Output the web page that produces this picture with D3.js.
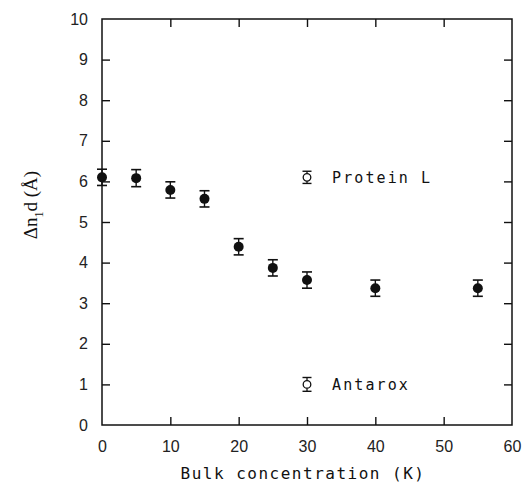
<!DOCTYPE html>
<html>
<head>
<meta charset="utf-8">
<script src="https://cdn.jsdelivr.net/npm/d3@7"></script>
<style>
  html, body { margin: 0; padding: 0; background: #fff; }
  svg { display: block; }
</style>
</head>
<body>
<svg id="chart" width="524" height="488"></svg>
<script>
// ---- data ----
const concentrations = [0, 5, 10, 15, 20, 25, 30, 40, 55];
const deltaValues    = [6.10, 6.08, 5.79, 5.57, 4.39, 3.87, 3.57, 3.37, 3.37];
const deltaErrors    = [0.20, 0.21, 0.20, 0.20, 0.20, 0.20, 0.20, 0.20, 0.20];
const xTicks = [0, 10, 20, 30, 40, 50, 60];
const yTicks = [0, 1, 2, 3, 4, 5, 6, 7, 8, 9, 10];
const legendLabels = ["Protein L", "Antarox"];
const legendX = [30, 30];
const legendY = [6.1, 1.0];
const legendErr = [0.15, 0.17];

(function () {
// ---- layout ----
const svg = d3.select("#chart");
const pLeft = 102, pRight = 512, pTop = 19, pBottom = 425;
const x = d3.scaleLinear().domain([0, 60]).range([pLeft, pRight]);
const y = d3.scaleLinear().domain([0, 10]).range([pBottom, pTop]);
const ink = "#111";
const tickLen = 8;

// frame
svg.append("rect")
  .attr("x", pLeft).attr("y", pTop)
  .attr("width", pRight - pLeft).attr("height", pBottom - pTop)
  .attr("fill", "none").attr("stroke", ink).attr("stroke-width", 1.5);

const tickFont = "'Liberation Sans', Arial, sans-serif";

// axes with inward ticks
const xAxisB = d3.axisBottom(x).tickValues(xTicks).tickSize(-tickLen).tickPadding(16).tickFormat(d3.format("d"));
const gxb = svg.append("g").attr("transform", `translate(0,${pBottom})`).call(xAxisB);
const xAxisT = d3.axisTop(x).tickValues(xTicks).tickSize(-tickLen).tickFormat("");
const gxt = svg.append("g").attr("transform", `translate(0,${pTop})`).call(xAxisT);
const yAxisL = d3.axisLeft(y).tickValues(yTicks).tickSize(-tickLen).tickPadding(14).tickFormat(d3.format("d"));
const gyl = svg.append("g").attr("transform", `translate(${pLeft},0)`).call(yAxisL);
const yAxisR = d3.axisRight(y).tickValues(yTicks).tickSize(-tickLen).tickFormat("");
const gyr = svg.append("g").attr("transform", `translate(${pRight},0)`).call(yAxisR);

[gxb, gxt, gyl, gyr].forEach(g => {
  g.select(".domain").remove();
  g.selectAll(".tick line").attr("stroke", ink).attr("stroke-width", 1.4);
  g.selectAll(".tick text")
    .attr("fill", "#222")
    .style("font-family", tickFont)
    .style("font-size", "16px");
});
gxb.selectAll(".tick line").filter(d => d === 0 || d === 60).remove();
gxt.selectAll(".tick line").filter(d => d === 0 || d === 60).remove();
gyl.selectAll(".tick line").filter(d => d === 0 || d === 10).remove();
gyr.selectAll(".tick line").filter(d => d === 0 || d === 10).remove();

// axis titles
svg.append("text")
  .attr("x", 303).attr("y", 479)
  .attr("text-anchor", "middle")
  .style("font-family", "'DejaVu Sans Mono', monospace")
  .style("font-size", "16px")
  .style("letter-spacing", "1.5px")
  .attr("fill", "#111")
  .text("Bulk concentration (K)");

const yt = svg.append("text")
  .attr("transform", "translate(37,205) rotate(-90)")
  .attr("text-anchor", "middle")
  .style("font-family", "'Liberation Serif', 'Times New Roman', serif")
  .style("font-size", "19px")
  .attr("fill", "#111");
yt.append("tspan").text("Δn");
yt.append("tspan").attr("dy", 6).style("font-size", "12px").text("1");
yt.append("tspan").attr("dy", -6).text("d (Å)");

// data: error bars + filled circles
const capW = 5;
const pts = concentrations.map((c, i) => ({ c, v: deltaValues[i], e: deltaErrors[i] }));
const eb = svg.append("g").selectAll("g.eb").data(pts).join("g").attr("class", "eb");
eb.append("line")
  .attr("x1", d => x(d.c)).attr("x2", d => x(d.c))
  .attr("y1", d => y(d.v + d.e)).attr("y2", d => y(d.v - d.e))
  .attr("stroke", ink).attr("stroke-width", 1.4);
eb.append("line")
  .attr("x1", d => x(d.c) - capW).attr("x2", d => x(d.c) + capW)
  .attr("y1", d => y(d.v + d.e)).attr("y2", d => y(d.v + d.e))
  .attr("stroke", ink).attr("stroke-width", 1.6);
eb.append("line")
  .attr("x1", d => x(d.c) - capW).attr("x2", d => x(d.c) + capW)
  .attr("y1", d => y(d.v - d.e)).attr("y2", d => y(d.v - d.e))
  .attr("stroke", ink).attr("stroke-width", 1.6);
eb.append("circle")
  .attr("cx", d => x(d.c)).attr("cy", d => y(d.v))
  .attr("r", 5).attr("fill", ink);

// legend-like labels inside plot
const leg = legendLabels.map((t, i) => ({ t, lx: legendX[i], ly: legendY[i], e: legendErr[i] }));
const lg = svg.append("g").selectAll("g").data(leg).join("g");
lg.append("line")
  .attr("x1", d => x(d.lx)).attr("x2", d => x(d.lx))
  .attr("y1", d => y(d.ly + d.e)).attr("y2", d => y(d.ly - d.e))
  .attr("stroke", ink).attr("stroke-width", 1.3);
lg.append("line")
  .attr("x1", d => x(d.lx) - 4.5).attr("x2", d => x(d.lx) + 4.5)
  .attr("y1", d => y(d.ly + d.e)).attr("y2", d => y(d.ly + d.e))
  .attr("stroke", ink).attr("stroke-width", 1.4);
lg.append("line")
  .attr("x1", d => x(d.lx) - 4.5).attr("x2", d => x(d.lx) + 4.5)
  .attr("y1", d => y(d.ly - d.e)).attr("y2", d => y(d.ly - d.e))
  .attr("stroke", ink).attr("stroke-width", 1.4);
lg.append("circle")
  .attr("cx", d => x(d.lx)).attr("cy", d => y(d.ly))
  .attr("r", 3.8).attr("fill", "#fff").attr("stroke", ink).attr("stroke-width", 1.3);
lg.append("text")
  .attr("x", d => x(d.lx) + 25).attr("y", d => y(d.ly) + 6)
  .style("font-family", "'DejaVu Sans Mono', monospace")
  .style("font-size", "15px")
  .style("letter-spacing", "2.1px")
  .attr("fill", "#111")
  .text(d => d.t);
})();
</script>
</body>
</html>
